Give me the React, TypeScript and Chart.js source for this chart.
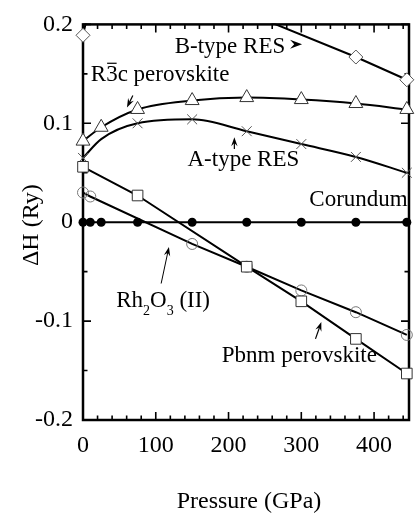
import React, { useEffect, useRef } from 'react';
import { Chart, registerables } from 'chart.js';

Chart.register(...registerables);

// ---- axis ticks ----
const pressureTicks = [0, 100, 200, 300, 400];
const enthalpyTicks = [-0.2, -0.1, 0, 0.1, 0.2];
const enthalpyTickLabels = ['-0.2', '-0.1', '0', '0.1', '0.2'];
const pressureMin = 0;
const pressureMax = 448;
const enthalpyMin = -0.2;
const enthalpyMax = 0.2;

// ---- series (pressure in GPa, ΔH in Ry) ----
const corundumP = [0, 10, 25, 75, 150, 225, 300, 375, 445];
const corundumH = [0, 0, 0, 0, 0, 0, 0, 0, 0];

const bTypeP = [0, 8, 225, 375, 445];
const bTypeH = [0.189, 0.215, 0.212, 0.167, 0.144];
const bTypeShown = [true, false, false, true, true];

const r3cP = [0, 25, 75, 150, 225, 300, 375, 445];
const r3cH = [0.082, 0.096, 0.114, 0.123, 0.126, 0.124, 0.12, 0.114];

const aTypeP = [0, 25, 75, 150, 225, 300, 375, 445];
const aTypeH = [0.065, 0.084, 0.1, 0.104, 0.092, 0.079, 0.066, 0.05];
const aTypeShown = [true, false, true, true, true, true, true, true];

const pbnmP = [0, 75, 225, 300, 375, 445];
const pbnmH = [0.056, 0.027, -0.045, -0.08, -0.118, -0.153];

const rh2o3P = [0, 10, 150, 225, 300, 375, 445];
const rh2o3H = [0.03, 0.026, -0.022, -0.045, -0.069, -0.091, -0.114];

const FONT = '"Liberation Serif", "Times New Roman", serif';

const mk = (xs: number[], ys: number[]) => xs.map((x, i) => ({ x, y: ys[i] }));

function drawArrow(ctx: CanvasRenderingContext2D, x1: number, y1: number, x2: number, y2: number, headLen = 8, headW = 3.2) {
  const ang = Math.atan2(y2 - y1, x2 - x1);
  ctx.beginPath();
  ctx.moveTo(x1, y1);
  ctx.lineTo(x2 - Math.cos(ang) * headLen * 0.6, y2 - Math.sin(ang) * headLen * 0.6);
  ctx.stroke();
  drawHead(ctx, x2, y2, ang, headLen, headW);
}

function drawHead(ctx: CanvasRenderingContext2D, x: number, y: number, ang: number, len: number, w: number) {
  const c = Math.cos(ang), s = Math.sin(ang);
  const bx = x - c * len, by = y - s * len;
  const nx = x - c * len * 0.65, ny = y - s * len * 0.65;
  ctx.beginPath();
  ctx.moveTo(x, y);
  ctx.lineTo(bx - s * w, by + c * w);
  ctx.lineTo(nx, ny);
  ctx.lineTo(bx + s * w, by - c * w);
  ctx.closePath();
  ctx.fill();
}

const framePlugin = {
  id: 'frame',
  beforeDatasetsDraw(chart: any) {
    const { ctx, chartArea: a, scales } = chart;
    const xs = scales.x, ys = scales.y;
    ctx.save();
    ctx.strokeStyle = '#000';
    ctx.lineWidth = 2.5;
    ctx.strokeRect(a.left, a.top, a.right - a.left, a.bottom - a.top);
    ctx.lineWidth = 1.6;
    ctx.beginPath();
    for (let v = pressureMin; v <= pressureMax; v += 20) {
      const px = xs.getPixelForValue(v);
      const len = v % 100 === 0 ? 8 : 4.5;
      ctx.moveTo(px, a.bottom);
      ctx.lineTo(px, a.bottom - len);
      ctx.moveTo(px, a.top);
      ctx.lineTo(px, a.top + len);
    }
    for (let k = -4; k <= 4; k++) {
      const v = k * 0.05;
      const py = ys.getPixelForValue(v);
      const len = k % 2 === 0 ? 8 : 4.5;
      ctx.moveTo(a.left, py);
      ctx.lineTo(a.left + len, py);
      ctx.moveTo(a.right, py);
      ctx.lineTo(a.right - len, py);
    }
    ctx.stroke();
    ctx.restore();
  },
  afterDraw(chart: any) {
    const { ctx, chartArea: a, scales } = chart;
    const X = (v: number) => scales.x.getPixelForValue(v);
    const Y = (v: number) => scales.y.getPixelForValue(v);
    ctx.save();
    ctx.fillStyle = '#000';
    ctx.strokeStyle = '#000';
    ctx.textBaseline = 'alphabetic';
    ctx.textAlign = 'left';

    // axis titles
    ctx.font = `24px ${FONT}`;
    ctx.textAlign = 'center';
    ctx.fillText('Pressure (GPa)', (a.left + a.right) / 2 + 3, a.bottom + 88);
    ctx.save();
    ctx.translate(38, (a.top + a.bottom) / 2 + 3);
    ctx.rotate(-Math.PI / 2);
    ctx.fillText('ΔH (Ry)', 0, 0);
    ctx.restore();

    ctx.textAlign = 'left';
    const f = `23px ${FONT}`;
    ctx.font = f;

    // B-type RES
    ctx.fillText('B-type RES', X(126), Y(0.171));
    drawHead(ctx, X(301), Y(0.180), 0, 12, 4.5);

    // R-3c perovskite
    let x0 = X(10.7);
    const yb = Y(0.143);
    ctx.fillText('R', x0, yb);
    x0 += ctx.measureText('R').width;
    const w3 = ctx.measureText('3').width;
    ctx.fillText('3', x0, yb);
    ctx.lineWidth = 1.2;
    ctx.beginPath();
    ctx.moveTo(x0 + 1, yb - 17.5);
    ctx.lineTo(x0 + w3 - 1, yb - 17.5);
    ctx.stroke();
    x0 += w3;
    ctx.fillText('c perovskite', x0, yb);
    ctx.lineWidth = 1.2;
    drawArrow(ctx, X(68.5), Y(0.128), X(60.4), Y(0.116), 9, 3.2);

    // A-type RES
    ctx.fillText('A-type RES', X(143.6), Y(0.057));
    drawArrow(ctx, X(208), Y(0.074), X(208), Y(0.086), 9, 3.2);

    // Corundum
    ctx.fillText('Corundum', X(311), Y(0.016));

    // Rh2O3 (II)
    let rx = X(45.6);
    const ry = Y(-0.086);
    ctx.font = f;
    ctx.fillText('Rh', rx, ry);
    rx += ctx.measureText('Rh').width;
    ctx.font = `14px ${FONT}`;
    ctx.fillText('2', rx, ry + 8);
    rx += ctx.measureText('2').width;
    ctx.font = f;
    ctx.fillText('O', rx, ry);
    rx += ctx.measureText('O').width;
    ctx.font = `14px ${FONT}`;
    ctx.fillText('3', rx, ry + 8);
    rx += ctx.measureText('3').width;
    ctx.font = f;
    ctx.fillText(' (II)', rx, ry);
    ctx.lineWidth = 1;
    drawArrow(ctx, X(107.4), Y(-0.062), X(118.1), Y(-0.025), 9, 3.2);

    // Pbnm perovskite
    ctx.fillText('Pbnm perovskite', X(190.6), Y(-0.141));
    ctx.lineWidth = 1.2;
    drawArrow(ctx, X(319.5), Y(-0.118), X(327.5), Y(-0.101), 9, 3.2);

    ctx.restore();
  },
};

export default function App() {
  const ref = useRef<HTMLCanvasElement | null>(null);

  useEffect(() => {
    document.body.style.margin = '0';
    const canvas = ref.current;
    if (!canvas) return;
    const clip = { left: 15, top: 1, right: 15, bottom: 15 };
    const chart = new Chart(canvas, {
      type: 'line',
      data: {
        datasets: [
          {
            label: 'Corundum',
            data: mk(corundumP, corundumH),
            borderColor: '#000',
            borderWidth: 2,
            pointStyle: 'circle',
            pointRadius: 4.5,
            pointBackgroundColor: '#000',
            pointBorderColor: '#000',
            pointBorderWidth: 0,
            clip,
          },
          {
            label: 'Pbnm perovskite',
            data: mk(pbnmP, pbnmH),
            borderColor: '#000',
            borderWidth: 2,
            pointStyle: 'rect',
            pointRadius: 7.5,
            pointBackgroundColor: '#fff',
            pointBorderColor: '#333',
            pointBorderWidth: 1,
            clip,
          },
          {
            label: 'Rh2O3 (II)',
            data: mk(rh2o3P, rh2o3H),
            borderColor: '#000',
            borderWidth: 2,
            pointStyle: 'circle',
            pointRadius: 5.5,
            pointBackgroundColor: 'rgba(0,0,0,0)',
            pointBorderColor: '#777',
            pointBorderWidth: 1,
            clip,
          },
          {
            label: 'R-3c perovskite',
            data: mk(r3cP, r3cH),
            borderColor: '#000',
            borderWidth: 2,
            cubicInterpolationMode: 'monotone',
            pointStyle: 'triangle',
            pointRadius: 8,
            pointBackgroundColor: '#fff',
            pointBorderColor: '#333',
            pointBorderWidth: 1,
            clip,
          },
          {
            label: 'A-type RES',
            data: mk(aTypeP, aTypeH),
            borderColor: '#000',
            borderWidth: 2,
            cubicInterpolationMode: 'monotone',
            pointStyle: 'crossRot',
            pointRadius: aTypeShown.map((s) => (s ? 7 : 0)),
            pointBorderColor: '#555',
            pointBorderWidth: 1,
            clip,
          },
          {
            label: 'B-type RES',
            data: mk(bTypeP, bTypeH),
            borderColor: '#000',
            borderWidth: 2,
            pointStyle: 'rectRot',
            pointRadius: bTypeShown.map((s) => (s ? 7 : 0)),
            pointBackgroundColor: '#fff',
            pointBorderColor: '#555',
            pointBorderWidth: 1,
            clip,
          },
        ] as any,
      },
      options: {
        animation: false,
        responsive: false,
        maintainAspectRatio: false,
        devicePixelRatio: 1,
        layout: { padding: { top: 19, right: 1, left: 0, bottom: 0 } },
        plugins: { legend: { display: false }, tooltip: { enabled: false }, title: { display: false } },
        scales: {
          x: {
            type: 'linear',
            min: pressureMin,
            max: pressureMax,
            afterBuildTicks: (s: any) => {
              s.ticks = pressureTicks.map((v) => ({ value: v }));
            },
            afterFit: (s: any) => {
              s.height = 96;
            },
            grid: { display: false, drawTicks: false },
            border: { display: false },
            ticks: {
              autoSkip: false,
              maxRotation: 0,
              padding: 11,
              color: '#000',
              font: { family: FONT, size: 24 },
              callback: (v: any) => String(v),
            },
          },
          y: {
            type: 'linear',
            min: enthalpyMin,
            max: enthalpyMax,
            afterBuildTicks: (s: any) => {
              s.ticks = enthalpyTicks.map((v) => ({ value: v }));
            },
            afterFit: (s: any) => {
              s.width = 83;
            },
            grid: { display: false, drawTicks: false },
            border: { display: false },
            ticks: {
              padding: 10,
              color: '#000',
              font: { family: FONT, size: 24 },
              callback: (_v: any, i: number) => enthalpyTickLabels[i],
            },
          },
        },
      } as any,
      plugins: [framePlugin],
    });
    return () => chart.destroy();
  }, []);

  return <canvas ref={ref} width={418} height={516} style={{ display: 'block' }} />;
}
